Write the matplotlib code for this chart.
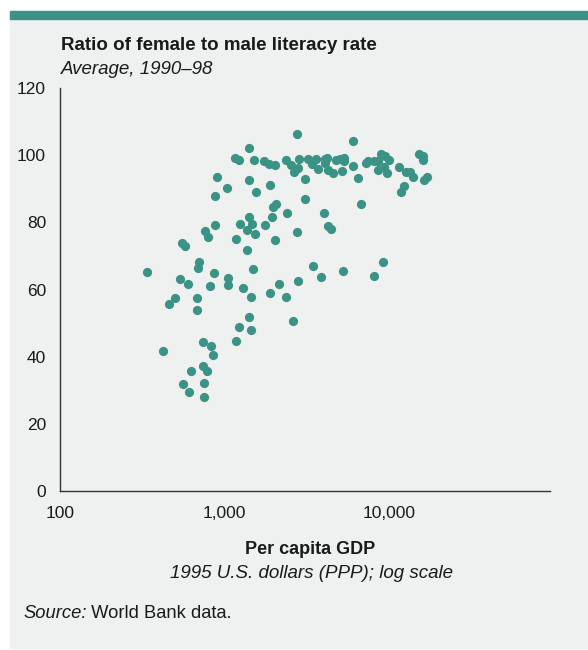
import matplotlib
matplotlib.use("Agg")
import matplotlib.pyplot as plt
from matplotlib.patches import Rectangle
from matplotlib.ticker import NullLocator

plt.rcParams['font.family'] = ['Liberation Sans', 'DejaVu Sans']

### Data: per capita GDP (1995 US$ PPP) and female/male literacy ratio ###
gdp = [2751, 5999, 1413, 1150, 1216, 1516, 1743, 1852, 2014, 2349,
       2519, 2845, 2778, 2627, 3195, 3379, 3609, 3675, 4054, 4210,
       4082, 4275, 4535, 4763, 5022, 5341, 5326, 5194, 5999, 6433,
       3077, 7195, 7474, 8128, 8514, 8880, 9389, 9931, 8514, 9298,
       9656, 11427, 12634, 13421, 14034, 15220, 16097, 16164, 17023, 16392,
       12286, 11750, 3077, 6767, 4026, 4270, 4459, 2747, 3465, 3833,
       5237, 8051, 9220, 2778, 2349, 2616, 898, 1399, 1039, 1886,
       1550, 873, 2047, 1977, 2399, 1399, 1931, 1239, 1466, 1751,
       873, 759, 1374, 1526, 796, 1166, 2033, 555, 578, 1360,
       702, 685, 340, 857, 539, 602, 1043, 1043, 813, 1486,
       1286, 1455, 1886, 2145, 502, 461, 676, 676, 1399, 1228,
       1453, 1171, 420, 735, 822, 854, 735, 777, 624, 561,
       745, 604, 745]
ratio = [106.3, 104.3, 102.2, 99.2, 98.7, 98.6, 98.4, 97.5, 97.0, 98.6,
         97.2, 98.8, 96.3, 95.0, 99.0, 97.3, 99.0, 95.8, 99.0, 99.1,
         97.6, 95.5, 94.6, 98.6, 98.8, 99.1, 98.3, 95.4, 96.7, 93.1,
         92.8, 97.8, 98.4, 98.4, 98.3, 100.3, 99.8, 98.7, 95.5, 96.5,
         94.6, 96.6, 95.1, 94.9, 93.5, 100.3, 99.8, 98.5, 93.5, 92.6,
         90.8, 88.9, 86.9, 85.6, 82.9, 78.8, 77.9, 77.2, 67.0, 63.6,
         65.6, 64.0, 68.2, 62.5, 57.9, 50.6, 93.5, 92.6, 90.3, 91.0,
         89.1, 87.9, 85.4, 84.6, 82.9, 81.7, 81.7, 79.4, 79.4, 79.2,
         79.2, 77.3, 77.7, 76.6, 75.5, 74.9, 74.8, 73.9, 72.9, 71.7,
         68.1, 66.3, 65.3, 65.0, 63.2, 61.6, 63.5, 61.3, 61.0, 66.0,
         60.4, 57.8, 59.0, 61.7, 57.6, 55.7, 57.6, 54.0, 51.7, 48.8,
         47.9, 44.7, 41.8, 44.4, 43.3, 40.4, 37.2, 35.8, 35.8, 31.8,
         32.1, 29.4, 27.9]

xticks = [100, 1000, 10000]
xticklabels = ["100", "1,000", "10,000"]
yticks = [0, 20, 40, 60, 80, 100, 120]

TEAL = "#3b9386"
PANEL = "#eef1f0"
INK = "#1a1a1a"

W, H = 588, 650
fig = plt.figure(figsize=(W / 100, H / 100), dpi=100)

### Background panel and top band ###
fig.patches.append(Rectangle((10 / W, 2 / H), 1 - 10 / W, (648 - 11) / H,
                             transform=fig.transFigure, color=PANEL, zorder=-2))
fig.patches.append(Rectangle((10 / W, 1 - 19 / H), 1 - 10 / W, 8 / H,
                             transform=fig.transFigure, color=TEAL, zorder=-1))

ax = fig.add_axes([60 / W, 1 - 491 / H, 490 / W, 403 / H])
ax.set_zorder(2)
ax.set_facecolor("none")
ax.scatter(gdp, ratio, s=44, color=TEAL, linewidths=0, zorder=3, clip_on=False)

ax.set_xscale("log")
ax.set_xlim(100, 95000)
ax.set_ylim(0, 120)
ax.set_xticks(xticks)
ax.set_xticklabels(xticklabels)
ax.xaxis.set_minor_locator(NullLocator())
ax.set_yticks(yticks)
ax.tick_params(axis="both", length=0, labelsize=12.5, colors=INK)
ax.tick_params(axis="x", pad=11)
ax.tick_params(axis="y", pad=10)
for side in ["top", "right"]:
    ax.spines[side].set_visible(False)
for side in ["left", "bottom"]:
    ax.spines[side].set_color("#333333")
    ax.spines[side].set_linewidth(1.0)

### Titles ###
fig.text(61 / W, 1 - 45 / H, "Ratio of female to male literacy rate",
         fontsize=13.5, fontweight="bold", color=INK, va="center", ha="left")
fig.text(61 / W, 1 - 70 / H, "Average, 1990\u201398",
         fontsize=13.5, style="italic", color=INK, va="center", ha="left")

fig.text(310 / W, 1 - 549 / H, "Per capita GDP",
         fontsize=13, fontweight="bold", color=INK, va="center", ha="center")
fig.text(311 / W, 1 - 574 / H, "1995 U.S. dollars (PPP); log scale",
         fontsize=13.5, style="italic", color=INK, va="center", ha="center")

src = fig.text(23 / W, 1 - 614 / H, "Source:", fontsize=13.2, style="italic",
               color=INK, va="center", ha="left")
ax.annotate(" World Bank data.", xy=(1, 0), xycoords=src, va="bottom", ha="left",
            fontsize=13.2, color=INK, annotation_clip=False)

fig.savefig("out.png", dpi=100, facecolor="white")
